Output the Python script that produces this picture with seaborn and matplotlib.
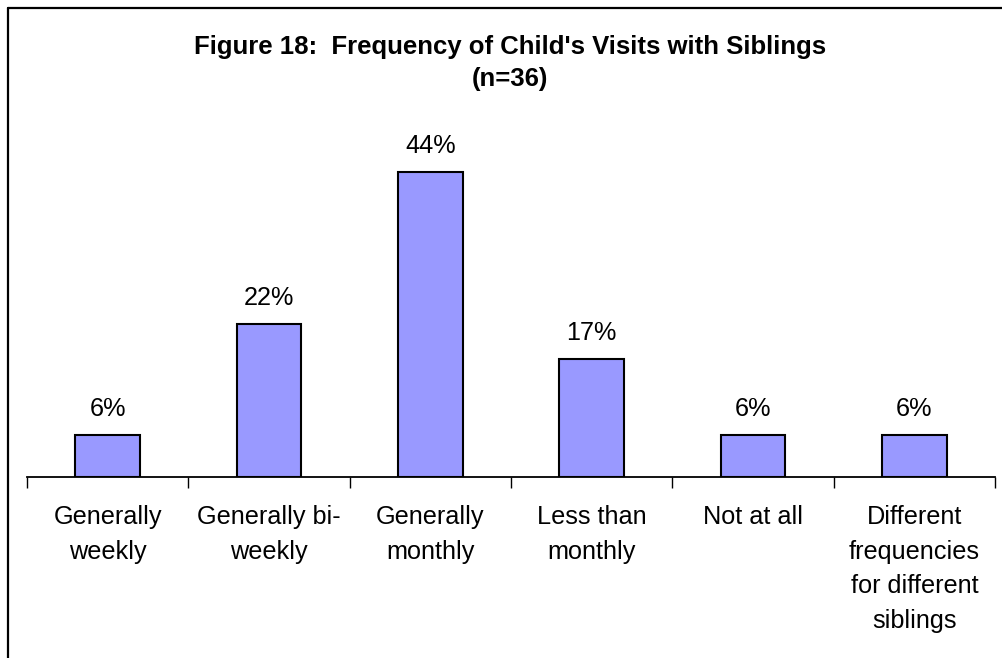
import matplotlib
matplotlib.use("Agg")
import matplotlib.pyplot as plt
from matplotlib.lines import Line2D
import seaborn as sns
import pandas as pd

categories = [
    "Generally\nweekly",
    "Generally bi-\nweekly",
    "Generally\nmonthly",
    "Less than\nmonthly",
    "Not at all",
    "Different\nfrequencies\nfor different\nsiblings",
]
percentages = [6, 22, 44, 17, 6, 6]
title_lines = ["Figure 18:  Frequency of Child's Visits with Siblings", "(n=36)"]

sns.set_theme(style="white")
plt.rcParams["font.family"] = ["Liberation Sans", "DejaVu Sans"]

W, H = 1002, 658
fig = plt.figure(figsize=(W / 100, H / 100), dpi=100)
fig.patch.set_facecolor("white")

# axes placed in pixel terms: baseline at y=477, 50% at y~130
base_y, top_y = 477, 130
ax = fig.add_axes([27 / W, (H - base_y) / H, 968 / W, (base_y - top_y) / H])

df = pd.DataFrame({"category": categories, "pct": percentages})
sns.barplot(data=df, x="category", y="pct", color="#9999FF", saturation=1,
            edgecolor="black", linewidth=1.5, width=0.4, ax=ax)

ax.set_ylim(0, 50)
ax.set_xlim(-0.5, len(categories) - 0.5)
ax.set_xlabel("")
ax.set_ylabel("")
ax.set_yticks([])

for side in ["left", "right", "top"]:
    ax.spines[side].set_visible(False)
ax.spines["bottom"].set_color("black")
ax.spines["bottom"].set_linewidth(1.3)

# category labels at centers, tick marks at category boundaries
ax.set_xticks(range(len(categories)))
ax.set_xticklabels(categories, fontsize=18.2, color="black", linespacing=1.57,
                   va="top")
ax.tick_params(axis="x", which="major", length=0, pad=20)
ax.set_xticks([i - 0.5 for i in range(len(categories) + 1)], minor=True)
ax.tick_params(axis="x", which="minor", length=8, width=1.0, color="black",
               direction="out", bottom=True)

container = ax.containers[0]
ax.bar_label(container, labels=[f"{v}%" for v in percentages], padding=10,
             fontsize=18.2, color="black")

fig.text(0.509, 1 - 47 / H, title_lines[0], ha="center", va="center",
         fontsize=18.5, fontweight="bold", color="black")
fig.text(0.509, 1 - 79 / H, title_lines[1], ha="center", va="center",
         fontsize=18.5, fontweight="bold", color="black")

# frame edges along the top and left of the chart area
fig.add_artist(Line2D([8 / W, 8 / W], [0, 1 - 7.5 / H], transform=fig.transFigure,
                      color="black", linewidth=1.6))
fig.add_artist(Line2D([8 / W, 1], [1 - 7.5 / H, 1 - 7.5 / H], transform=fig.transFigure,
                      color="black", linewidth=1.6))

fig.savefig("out.png", dpi=100)
